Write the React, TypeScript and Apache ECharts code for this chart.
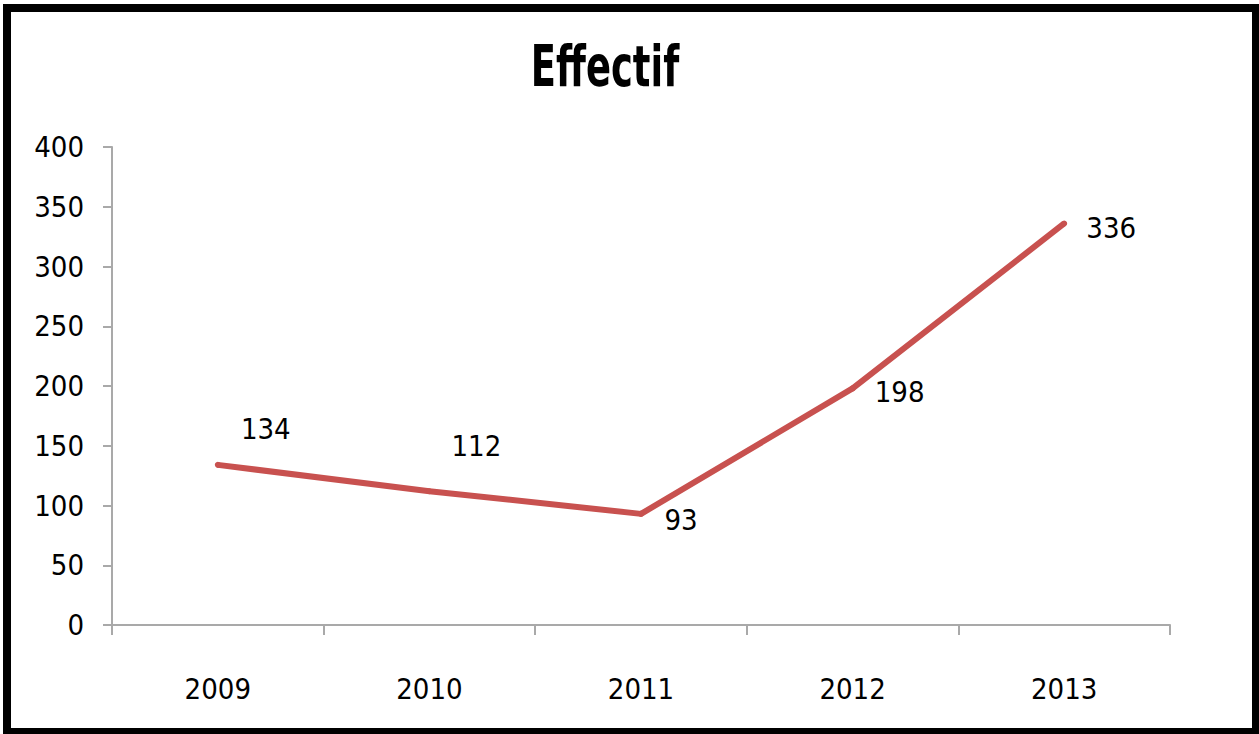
import React, { useEffect, useRef } from "react";
import * as echarts from "echarts";

const titleText = "Effectif";
const years = ["2009", "2010", "2011", "2012", "2013"];
const effectif = [134, 112, 93, 198, 336];
const yTicks = { min: 0, max: 400, interval: 50 };
// label offsets (dx, dy) relative to each point
const labelOffsets: [number, number][] = [
  [48, -36],
  [47, -45],
  [40, 6],
  [47, 4],
  [47, 5],
];

const FONT = "'DejaVu Sans Condensed', 'Open Sans', sans-serif";
const AXIS_COLOR = "#a9a9a9";
const LINE_COLOR = "#c8514f";

export default function App() {
  const ref = useRef<HTMLDivElement>(null);

  useEffect(() => {
    document.body.style.margin = "0";
    if (!ref.current) return;
    const chart = echarts.init(ref.current, null, { renderer: "svg" });
    chart.setOption({
      animation: false,
      backgroundColor: "#ffffff",
      graphic: [
        {
          type: "text",
          x: 605,
          y: 66,
          scaleX: 0.72,
          style: {
            text: titleText,
            align: "center",
            verticalAlign: "middle",
            font: "bold 57px " + FONT,
            fill: "#000",
          },
        },
      ],
      grid: { left: 112, right: 89, top: 147, bottom: 109 },
      xAxis: {
        type: "category",
        data: years,
        boundaryGap: true,
        axisLine: { show: true, lineStyle: { color: AXIS_COLOR, width: 2 } },
        axisTick: { show: true, length: 10, lineStyle: { color: AXIS_COLOR, width: 2 } },
        axisLabel: {
          margin: 49,
          color: "#000",
          fontFamily: FONT,
          fontSize: 29,
        },
        splitLine: { show: false },
      },
      yAxis: {
        type: "value",
        min: yTicks.min,
        max: yTicks.max,
        interval: yTicks.interval,
        axisLine: { show: true, lineStyle: { color: AXIS_COLOR, width: 2 } },
        axisTick: { show: true, length: 9, lineStyle: { color: AXIS_COLOR, width: 2 } },
        axisLabel: {
          margin: 28,
          color: "#000",
          fontFamily: FONT,
          fontSize: 29,
        },
        splitLine: { show: false },
      },
      series: [
        {
          type: "line",
          data: effectif.map((v, i) => ({
            value: v,
            label: { offset: labelOffsets[i] },
          })),
          symbol: "circle",
          symbolSize: 6,
          itemStyle: { color: LINE_COLOR },
          lineStyle: { color: LINE_COLOR, width: 6 },
          label: {
            show: true,
            position: "inside",
            color: "#000",
            fontFamily: FONT,
            fontSize: 29,
          },
        },
      ],
    });
    return () => chart.dispose();
  }, []);

  return (
    <div style={{ position: "relative", width: 1259, height: 734, background: "#fff" }}>
      <div ref={ref} style={{ position: "absolute", left: 0, top: 0, width: 1259, height: 734 }} />
      <div
        style={{
          position: "absolute",
          left: 3,
          top: 4,
          width: 1256,
          height: 730,
          boxSizing: "border-box",
          borderStyle: "solid",
          borderColor: "#000",
          borderWidth: "8px 7px 6px 8px",
          pointerEvents: "none",
        }}
      />
    </div>
  );
}
